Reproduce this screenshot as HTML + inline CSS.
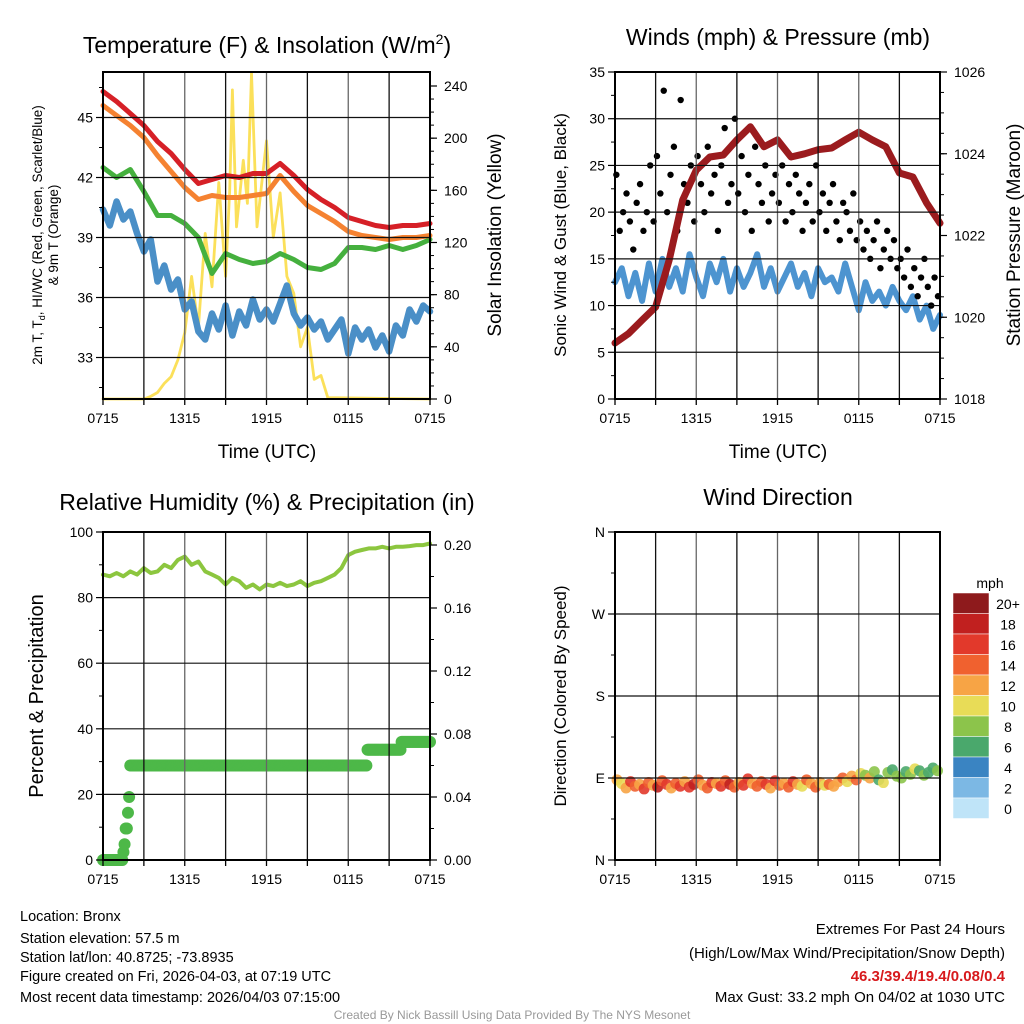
<!DOCTYPE html>
<html><head><meta charset="utf-8">
<style>
html,body{margin:0;padding:0;background:#fff;}
svg{display:block;font-family:"Liberation Sans",Arial,sans-serif;}
</style></head>
<body>
<svg id="chart" width="1024" height="1024" viewBox="0 0 1024 1024" xmlns="http://www.w3.org/2000/svg">
<rect x="0" y="0" width="1024" height="1024" fill="#fff"/>
<g id="layer"></g>
<text x="267" y="53" font-size="23" text-anchor="middle">Temperature (F) &amp; Insolation (W/m<tspan font-size="14" dy="-9">2</tspan><tspan dy="9">)</tspan></text>
<text x="778" y="45" font-size="23" text-anchor="middle">Winds (mph) &amp; Pressure (mb)</text>
<text x="267" y="510" font-size="23" text-anchor="middle">Relative Humidity (%) &amp; Precipitation (in)</text>
<text x="778" y="505" font-size="23" text-anchor="middle">Wind Direction</text>
<text transform="translate(42,235) rotate(-90)" font-size="13.5" text-anchor="middle">2m T, T<tspan font-size="9" dy="3">d</tspan><tspan dy="-3">, HI/WC (Red, Green, Scarlet/Blue)</tspan></text>
<text transform="translate(58,235) rotate(-90)" font-size="13.5" text-anchor="middle">&amp; 9m T (Orange)</text>
<text transform="translate(501,235) rotate(-90)" font-size="19" text-anchor="middle">Solar Insolation (Yellow)</text>
<text transform="translate(566,235) rotate(-90)" font-size="17" text-anchor="middle">Sonic Wind &amp; Gust (Blue, Black)</text>
<text transform="translate(1020,235) rotate(-90)" font-size="19" text-anchor="middle">Station Pressure (Maroon)</text>
<text transform="translate(43,696) rotate(-90)" font-size="20" text-anchor="middle">Percent &amp; Precipitation</text>
<text transform="translate(566,696) rotate(-90)" font-size="17" text-anchor="middle">Direction (Colored By Speed)</text>
<text x="267" y="458" font-size="19" text-anchor="middle">Time (UTC)</text>
<text x="778" y="458" font-size="19" text-anchor="middle">Time (UTC)</text>
<g font-size="14.5">
<text x="20" y="921">Location: Bronx</text>
<text x="20" y="943">Station elevation: 57.5 m</text>
<text x="20" y="962">Station lat/lon: 40.8725; -73.8935</text>
<text x="20" y="981">Figure created on Fri, 2026-04-03, at 07:19 UTC</text>
<text x="20" y="1002">Most recent data timestamp: 2026/04/03 07:15:00</text>
</g>
<g font-size="15" text-anchor="end">
<text x="1005" y="934">Extremes For Past 24 Hours</text>
<text x="1005" y="958">(High/Low/Max Wind/Precipitation/Snow Depth)</text>
<text x="1005" y="981" fill="#d7191c" font-weight="bold">46.3/39.4/19.4/0.08/0.4</text>
<text x="1005" y="1002">Max Gust: 33.2 mph On 04/02 at 1030 UTC</text>
</g>
<text x="512" y="1019" font-size="12" fill="#999" text-anchor="middle">Created By Nick Bassill Using Data Provided By The NYS Mesonet</text>
<g id="cbar"></g>
</svg>
<script>
const xTickLabels = ["0715","1315","1915","0115","0715"];
const tempRed = [46.3,45.8,45.2,44.6,43.8,43.2,42.4,41.7,41.9,42.1,42.0,42.2,42.2,42.7,42.1,41.4,40.9,40.5,40.0,39.8,39.6,39.5,39.6,39.6,39.7];
const temp9mOrange = [45.6,45.1,44.6,44.0,43.1,42.3,41.5,40.9,41.1,41.0,41.0,41.1,41.2,42.1,41.3,40.6,40.2,39.8,39.3,39.1,39.0,38.9,39.0,39.0,39.1];
const heatIndexGreen = [42.5,42.0,42.4,41.3,40.1,40.1,39.7,39.0,37.2,38.2,37.9,37.7,37.8,38.2,37.9,37.5,37.4,37.7,38.5,38.5,38.4,38.6,38.4,38.6,38.9];
const dewBlue = [40.4,39.6,40.8,39.9,40.3,39.2,38.3,38.9,36.8,37.6,36.4,36.9,35.4,35.8,34.3,33.9,35.2,34.4,35.6,34.1,35.3,34.6,35.9,34.9,35.4,34.8,35.7,36.6,35.2,34.6,35.0,34.4,34.8,33.9,34.4,34.9,33.2,34.5,33.9,34.4,33.5,34.1,33.3,34.6,34.1,35.4,34.8,35.6,35.3];
const solarTimes = [0,3,3.5,4,4.5,5,5.5,6,6.5,7,7.5,8,8.5,9,9.3,9.5,9.8,10.3,10.6,10.9,11.3,11.7,12,12.5,13,13.5,14,14.5,15,15.5,16,16.5,24];
const solarValues = [0,0,2,5,12,17,30,51,94,55,127,86,166,94,160,237,132,183,150,250,132,170,198,124,158,94,81,40,55,15,18,1,0];
const windBlue = [12.5,14,11,13.5,10.5,14.5,11.5,15,12,14,11.5,15.5,13,11,14.5,12.5,15,11.5,14,12,13.5,15.5,12,14,11.5,13,14.5,12,13.5,11,14,12.5,13,11.5,14.5,12,9.5,12.5,10.5,11.5,10,12,10.5,9.5,11,8.5,10,7.5,9];
const gustBlack = [24,18,20,22,19,16,21,23,18,20,25,19,26,22,33,20,24,27,18,32,23,21,25,19,26,23,20,27,22,24,18,25,29,21,23,30,22,26,20,24,18,27,23,21,25,19,22,24,21,25,19,23,20,24,22,18,21,23,19,25,20,22,18,21,23,19,17,21,20,18,22,17,19,16,18,15,17,19,14,16,18,15,17,14,15,13,16,12,14,11,13,15,12,10,13,11];
const pressureMaroon = [1019.37,1019.6,1019.93,1020.25,1021.4,1022.87,1023.6,1023.92,1023.97,1024.34,1024.66,1024.17,1024.34,1023.92,1024.0,1024.1,1024.14,1024.34,1024.53,1024.34,1024.17,1023.53,1023.43,1022.8,1022.3];
const rhGreen = [87,86.5,87.5,86.5,88,87,89,87.5,88,90,89,91.5,92.5,90,91,88,87,86,84,86,85,83,84,82.5,84,83.5,84.5,83.5,84,85,83.5,84.5,85,86,87,89,93,94,94.5,95,95,95.5,95,95.5,95.5,95.7,96,96,96.5];
const precipTimes = [0,1.45,1.55,1.65,1.75,1.85,1.95,19.4,21.9];
const precipValues = [0,0.005,0.01,0.02,0.03,0.04,0.06,0.07,0.075];
const windDir = [88,84,79,86,81,83,78,85,82,80,87,83,79,84,81,86,80,83,88,82,79,85,84,81,87,83,80,85,82,89,84,81,86,83,79,87,82,84,80,86,83,81,88,84,80,85,82,83,81,86,90,86,92,88,95,93,90,97,88,85,96,99,92,90,97,94,100,98,93,96,101,98];
const windSpd = [12,11,13,16,14,12,17,15,13,18,14,16,12,15,17,13,16,18,14,12,15,17,13,16,14,18,15,13,17,16,12,15,14,16,13,17,15,12,14,16,13,11,15,12,14,13,11,14,12,13,15,10,12,14,11,9,12,8,7,10,8,7,9,8,6,8,10,7,8,6,7,9];
const cbarLabels = ["20+","18","16","14","12","10","8","6","4","2","0"];
const cbarColors = ["#8e1a1c","#c1201f","#e2392b","#f0612f","#f7a445","#e8dc57","#8cc44b","#4aa86c","#3a84c2","#7cb8e4","#bfe4f8"];

const NS="http://www.w3.org/2000/svg";
const layer=document.getElementById('layer');
function mk(tag,attrs,parent){const e=document.createElementNS(NS,tag);for(const k in attrs)e.setAttribute(k,attrs[k]);(parent||layer).appendChild(e);return e;}
function txt(x,y,s,size,anchor,parent){const t=mk('text',{x:x,y:y,'font-size':size,'text-anchor':anchor},parent);t.textContent=s;return t;}
function lin(d0,d1,r0,r1){return v=>r0+(v-d0)*(r1-r0)/(d1-d0);}

const P=[
 {x0:103,x1:430,y0:72,y1:399},
 {x0:615,x1:940,y0:72,y1:399},
 {x0:103,x1:430,y0:532,y1:860},
 {x0:615,x1:940,y0:532,y1:860}];

function frame(p,name){
  const g=mk('g',{});
  
  
  const xs=lin(0,24,p.x0,p.x1);
  for(let h=3;h<24;h+=3){mk('line',{x1:xs(h),x2:xs(h),y1:p.y0,y2:p.y1,stroke:(h%6===0?'#666':'#111'),'stroke-width':1.3},g);}
  for(let h=0;h<=24;h+=3){mk('line',{x1:xs(h),x2:xs(h),y1:p.y1,y2:p.y1+6,stroke:'#000','stroke-width':1.3},g);}
  xTickLabels.forEach((s,i)=>{const t=txt(xs(i*6),p.y1+24,s,14,'middle',g);
    
    });
  return {g,xs};
}
function hgrid(p,ys,vals,g){vals.forEach(v=>mk('line',{x1:p.x0,x2:p.x1,y1:ys(v),y2:ys(v),stroke:'#111','stroke-width':1.2},g));}
function yaxis(p,ys,majors,minors,labels,side,g){
  const x=side==='l'?p.x0:p.x1, d=side==='l'?-1:1;
  minors.forEach(v=>mk('line',{x1:x,x2:x+d*4,y1:ys(v),y2:ys(v),stroke:'#000','stroke-width':1},g));
  majors.forEach((v,i)=>{mk('line',{x1:x,x2:x+d*7,y1:ys(v),y2:ys(v),stroke:'#000','stroke-width':1.2},g);
    const t=txt(x+d*(side==='l'?10:14),ys(v)+5,labels[i],14,side==='l'?'end':'start',g);
    
    });
}
function border(p,g){mk('rect',{x:p.x0,y:p.y0,width:p.x1-p.x0,height:p.y1-p.y0,fill:'none',stroke:'#000','stroke-width':2},g);}
function path(xsArr,ysArr,color,w,name){
  let d='';xsArr.forEach((x,i)=>{d+=(i?'L':'M')+x.toFixed(1)+' '+ysArr[i].toFixed(1);});
  const e=mk('path',{d:d,fill:'none',stroke:color,'stroke-width':w,'stroke-linejoin':'round','stroke-linecap':'round'});
  
  
  return e;
}
function range(n,step){return Array.from({length:n},(_,i)=>i*step);}

(function(){
  const p=P[0];const {g,xs}=frame(p,'temp-chart');
  const ys=lin(45,33,117.5,357.5);
  const yr=lin(0,240,399,86);
  hgrid(p,ys,[45,42,39,36,33],g);
  const mins=[];for(let v=31.5;v<=46.5;v+=1.5)mins.push(v);
  yaxis(p,ys,[45,42,39,36,33],mins,["45","42","39","36","33"],'l',g);
  const rm=[];for(let v=0;v<=240;v+=10)rm.push(v);
  yaxis(p,yr,[240,200,160,120,80,40,0],rm,["240","200","160","120","80","40","0"],'r',g);
  const hh=range(25,1), hh2=range(49,0.5);
  path(solarTimes.map(xs),solarValues.map(yr),'#fbe05a',2.8,'solar-insolation-line');
  path(hh2.map(xs),dewBlue.map(ys),'#4a8fc7',6.5,'dewpoint-line');
  path(hh.map(xs),heatIndexGreen.map(ys),'#45b03e',5,'heat-index-line');
  path(hh.map(xs),temp9mOrange.map(ys),'#f58231',5,'temp-9m-line');
  path(hh.map(xs),tempRed.map(ys),'#d62027',5,'temp-2m-line');
  border(p,g);layer.appendChild(g);
})();
(function(){
  const p=P[1];const {g,xs}=frame(p,'wind-chart');
  const ys=lin(0,35,399,72);
  const yr=lin(1018,1026,399,72);
  hgrid(p,ys,[5,10,15,20,25,30],g);
  const mins=[];for(let v=2.5;v<35;v+=5)mins.push(v);
  yaxis(p,ys,[0,5,10,15,20,25,30,35],mins,["0","5","10","15","20","25","30","35"],'l',g);
  const rm=[];for(let v=1018;v<=1026;v+=0.5)rm.push(v);
  yaxis(p,yr,[1018,1020,1022,1024,1026],rm,["1018","1020","1022","1024","1026"],'r',g);
  path(range(49,0.5).map(xs),windBlue.map(ys),'#4d94d0',6,'sonic-wind-line');
  gustBlack.forEach((v,i)=>{const c=mk('circle',{cx:xs(i*0.25+0.1),cy:ys(v),r:3.2,fill:'#000'});
    
    });
  path(range(25,1).map(xs),pressureMaroon.map(yr),'#9b1b1e',7,'pressure-line');
  border(p,g);layer.appendChild(g);
})();
(function(){
  const p=P[2];const {g,xs}=frame(p,'rh-chart');
  const ys=lin(0,100,860,532);
  const yr=lin(0,0.2,860,545);
  hgrid(p,ys,[20,40,60,80],g);
  yaxis(p,ys,[0,20,40,60,80,100],[10,30,50,70,90],["0","20","40","60","80","100"],'l',g);
  yaxis(p,yr,[0,0.04,0.08,0.12,0.16,0.2],[0.02,0.06,0.10,0.14,0.18],["0.00","0.04","0.08","0.12","0.16","0.20"],'r',g);
  path(range(49,0.5).map(xs),rhGreen.map(ys),'#8cc63f',4,'rh-line');
  for(let t=0;t<=24;t+=1/12){
    let v=0;for(let k=0;k<precipTimes.length;k++){if(t>=precipTimes[k])v=precipValues[k];}
    const c=mk('circle',{cx:xs(t),cy:yr(v),r:6,fill:'#4db848'});
    
    
  }
  border(p,g);layer.appendChild(g);
})();
(function(){
  const p=P[3];const {g,xs}=frame(p,'direction-chart');
  const ys=lin(0,360,860,532);
  hgrid(p,ys,[90,180,270],g);
  yaxis(p,ys,[0,90,180,270,360],[45,135,225,315],["N","E","S","W","N"],'l',g);
  windDir.forEach((d,i)=>{
    const s=windSpd[i];const bin=Math.min(10,Math.floor(s/2));
    const c=mk('circle',{cx:xs(i/3+0.15),cy:ys(d),r:5.5,fill:cbarColors[10-bin],'fill-opacity':0.9});
    
    
  });
  border(p,g);layer.appendChild(g);
})();
(function(){
  const cb=document.getElementById('cbar');
  
  
  txt(990,588,'mph',14,'middle',cb);
  cbarColors.forEach((c,i)=>{
    const r=mk('rect',{x:953,y:593+i*20.5,width:36,height:20.5,fill:c,stroke:'#fff','stroke-width':0.5},cb);
    
    
    txt(1008,593+i*20.5+16,cbarLabels[i],14,'middle',cb);
  });
})();
</script>
</body></html>
